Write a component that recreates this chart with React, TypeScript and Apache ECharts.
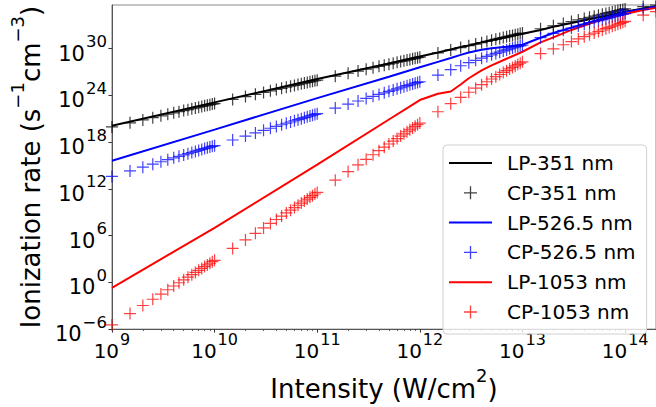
import React, { useEffect, useRef } from "react";
import * as echarts from "echarts";

// Intensity grid of the CP (circular polarization) samples, W/cm^2
const intensity = [
  1e9, 1.5e9, 2e9, 2.5e9, 3e9, 3.5e9, 4e9, 4.5e9, 5e9, 5.5e9, 6e9, 6.5e9, 7e9, 7.5e9, 8e9, 8.5e9, 9e9, 9.5e9,
  1e10, 1.5e10, 2e10, 2.5e10, 3e10, 3.5e10, 4e10, 4.5e10, 5e10, 5.5e10, 6e10, 6.5e10, 7e10, 7.5e10, 8e10, 8.5e10, 9e10, 9.5e10,
  1e11, 1.5e11, 2e11, 2.5e11, 3e11, 3.5e11, 4e11, 4.5e11, 5e11, 5.5e11, 6e11, 6.5e11, 7e11, 7.5e11, 8e11, 8.5e11, 9e11, 9.5e11,
  1e12, 1.5e12, 2e12, 2.5e12, 3e12, 3.5e12, 4e12, 4.5e12, 5e12, 5.5e12, 6e12, 6.5e12, 7e12, 7.5e12, 8e12, 8.5e12, 9e12, 9.5e12,
  1e13, 1.5e13, 2e13, 2.5e13, 3e13, 3.5e13, 4e13, 4.5e13, 5e13, 5.5e13, 6e13, 6.5e13, 7e13, 7.5e13, 8e13, 8.5e13, 9e13, 9.5e13,
  1e14, 1.5e14, 2e14,
];

// log10 of ionization rate (s^-1 cm^-3) for CP series
const cp351 = [
  19.95, 20.48, 20.85, 21.14, 21.38, 21.58, 21.76, 21.91, 22.05, 22.17, 22.28, 22.39, 22.49, 22.58, 22.66, 22.74, 22.81, 22.88,
  22.95, 23.48, 23.85, 24.14, 24.38, 24.58, 24.76, 24.91, 25.05, 25.17, 25.28, 25.39, 25.49, 25.58, 25.66, 25.74, 25.81, 25.88,
  25.95, 26.47, 26.84, 27.12, 27.36, 27.55, 27.73, 27.88, 28.01, 28.13, 28.25, 28.35, 28.44, 28.53, 28.61, 28.69, 28.76, 28.84,
  28.9, 29.45, 29.83, 30.13, 30.38, 30.59, 30.77, 30.92, 31.07, 31.19, 31.31, 31.42, 31.52, 31.61, 31.7, 31.78, 31.86, 31.93,
  32.0, 32.55, 32.93, 33.23, 33.48, 33.69, 33.87, 34.02, 34.17, 34.29, 34.41, 34.52, 34.62, 34.71, 34.8, 34.88, 34.96, 35.03,
  35.1, 35.4, 35.6,
];
const cp526 = [
  13.6, 14.3, 14.79, 15.17, 15.48, 15.75, 15.98, 16.18, 16.36, 16.52, 16.67, 16.81, 16.94, 17.06, 17.17, 17.27, 17.37, 17.46,
  17.55, 18.27, 18.78, 19.18, 19.51, 19.78, 20.02, 20.23, 20.42, 20.58, 20.74, 20.88, 21.01, 21.14, 21.25, 21.36, 21.46, 21.56,
  21.65, 22.37, 22.88, 23.28, 23.61, 23.88, 24.12, 24.33, 24.52, 24.68, 24.84, 24.98, 25.11, 25.24, 25.35, 25.46, 25.56, 25.66,
  25.75, 26.6, 27.3, 27.8, 28.2, 28.5, 28.78, 29.0, 29.2, 29.38, 29.55, 29.7, 29.84, 29.97, 30.09, 30.2, 30.28, 30.36,
  30.45, 31.4, 31.95, 32.35, 32.65, 32.9, 33.12, 33.3, 33.46, 33.6, 33.73, 33.85, 33.96, 34.06, 34.16, 34.25, 34.33, 34.41,
  34.5, 35.05, 35.35,
];
const cp1053 = [
  -5.47, -4.01, -2.97, -2.17, -1.51, -0.95, -0.47, -0.05, 0.33, 0.67, 0.99, 1.28, 1.54, 1.79, 2.02, 2.24, 2.45, 2.65,
  2.83, 4.36, 5.45, 6.29, 6.98, 7.56, 8.07, 8.51, 8.91, 9.27, 9.6, 9.9, 10.18, 10.44, 10.69, 10.91, 11.13, 11.34,
  11.54, 13.11, 14.22, 15.08, 15.79, 16.38, 16.9, 17.35, 17.76, 18.13, 18.46, 18.78, 19.06, 19.33, 19.58, 19.81, 20.03, 20.24,
  20.44, 21.9, 22.93, 23.75, 24.4, 24.92, 25.37, 25.75, 26.1, 26.4, 26.68, 26.94, 27.17, 27.39, 27.59, 27.78, 27.96, 28.13,
  28.3, 29.36, 29.98, 30.5, 30.9, 31.24, 31.53, 31.78, 32.0, 32.2, 32.39, 32.56, 32.72, 32.87, 33.0, 33.13, 33.25, 33.38,
  33.5, 34.3, 34.75,
];

// LP (linear polarization) curves
const lpIntensity = [1e9, 1e10, 1e11, 5e11, 1e12, 1.5e12, 2e12, 2.5e12, 3e12, 4e12, 5e12, 7e12, 1e13, 1.5e13, 2e13, 3e13, 5e13, 7e13, 1e14, 1.5e14, 2e14];
const lp351 = [20.1, 23.1, 26.1, 28.1, 29.0, 29.5, 29.9, 30.2, 30.4, 30.8, 31.1, 31.5, 31.9, 32.4, 32.8, 33.3, 33.9, 34.3, 34.75, 35.15, 35.45];
const lp526 = [15.6, 19.6, 23.65, 26.4, 27.6, 28.3, 28.8, 29.2, 29.5, 29.85, 30.05, 30.25, 30.5, 31.4, 32.0, 32.7, 33.55, 34.1, 34.7, 35.05, 35.35];
const lp1053 = [-0.7, 7.0, 15.1, 20.9, 23.4, 24.2, 24.5, 25.4, 26.2, 27.2, 27.85, 28.7, 29.6, 30.8, 31.45, 32.4, 33.4, 33.95, 34.45, 34.95, 35.25];

const xTickExponents = [9, 10, 11, 12, 13, 14];
const yTickExponents = [-6, 0, 6, 12, 18, 24, 30];
const seriesNames = ["LP-351 nm", "CP-351 nm", "LP-526.5 nm", "CP-526.5 nm", "LP-1053 nm", "CP-1053 nm"];

const FONT = "DejaVu Sans";
const PLUS = "path://M0,5.4H12V6.6H0Z M5.4,0H6.6V12H5.4Z";
const LINE_ICON = "path://M0,0H43V2H0Z";

export default function App() {
  const ref = useRef<HTMLDivElement>(null);
  useEffect(() => {
    const chart = echarts.init(ref.current!, null, { renderer: "svg" });
    const xMin = Math.log10(1e9);
    const xMax = Math.log10(2e14);
    const yMin = -6;
    const yMax = 35.6;
    const minorTicks: number[] = [];
    for (let n = 9; n <= 14; n++) {
      for (let k = 2; k <= 9; k++) {
        const v = n + Math.log10(k);
        if (v < xMax) minorTicks.push(v);
      }
    }
    const sup = (v: number) => (v < 0 ? "\u2212" + -v : String(v));
    const xTickRich = {
      b: { fontSize: 20, lineHeight: 30, verticalAlign: "bottom", fontFamily: FONT, color: "#000" },
      s: { fontSize: 16, lineHeight: 16, verticalAlign: "top", fontFamily: FONT, color: "#000", padding: [0, 0, 0, 1] },
    };
    const yTickRich = {
      b: { fontSize: 21, lineHeight: 31, verticalAlign: "bottom", fontFamily: FONT, color: "#000" },
      s: { fontSize: 16.5, lineHeight: 16.5, verticalAlign: "top", fontFamily: FONT, color: "#000", padding: [0, 0, 0, 1] },
    };
    const nameRich = {
      a: { fontSize: 26, lineHeight: 36, verticalAlign: "bottom", fontFamily: FONT, color: "#000" },
      s: { fontSize: 18, lineHeight: 18, verticalAlign: "top", fontFamily: FONT, color: "#000" },
    };
    const cp = (vals: number[]) => intensity.map((x, i) => [Math.log10(x), vals[i]]);
    const lp = (vals: number[]) => lpIntensity.map((x, i) => [Math.log10(x), vals[i]]);
    const colors = ["#000000", "#0000ff", "#ff0000"];
    const lpData = [lp351, lp526, lp1053];
    const cpData = [cp351, cp526, cp1053];
    const series: any[] = [];
    for (let i = 0; i < 3; i++) {
      series.push({
        name: seriesNames[2 * i],
        type: "line",
        data: lp(lpData[i]),
        symbol: "none",
        showSymbol: false,
        lineStyle: { color: colors[i], width: 2 },
        itemStyle: { color: colors[i] },
        z: 2,
      });
      series.push({
        name: seriesNames[2 * i + 1],
        type: "scatter",
        data: cp(cpData[i]),
        symbol: PLUS,
        symbolSize: 12,
        itemStyle: { color: colors[i], opacity: 0.75 },
        z: 2,
      });
    }
    chart.setOption({
      animation: false,
      backgroundColor: "#ffffff",
      textStyle: { fontFamily: FONT },
      grid: { left: 100, top: 5, right: -2, bottom: 68, show: true, borderColor: "#8a8a8a", borderWidth: 1 },
      legend: {
        data: seriesNames.map((name, i) => (i % 2 === 0 ? { name, icon: LINE_ICON } : { name })),
        orient: "vertical",
        left: 443,
        top: 145,
        padding: [8, 11, 12, 6],
        itemWidth: 43,
        itemHeight: 13,
        itemGap: 9.8,
        backgroundColor: "rgba(255,255,255,0.8)",
        borderColor: "#d0d0d0",
        borderWidth: 1,
        borderRadius: 4,
        textStyle: { fontSize: 20, fontFamily: FONT, color: "#000", lineHeight: 20, padding: [0, 0, 0, 10] },
      },
      xAxis: [
        {
          type: "value",
          min: xMin,
          max: xMax,
          interval: 1,
          name: "{a|Intensity (W/cm}{s|2}{a|)}",
          nameLocation: "middle",
          nameGap: 29,
          nameTextStyle: { rich: nameRich },
          axisLine: { show: true, onZero: false, lineStyle: { color: "#555", width: 1 } },
          axisTick: { show: true, length: 3.5, customValues: xTickExponents, lineStyle: { color: "#333", width: 1 } },
          axisLabel: {
            customValues: xTickExponents,
            margin: 2,
            formatter: (v: number) => `{b|10}{s|${sup(v)}}`,
            rich: xTickRich,
          },
          splitLine: { show: false },
        },
        {
          type: "value",
          min: xMin,
          max: xMax,
          position: "bottom",
          axisLine: { show: false, onZero: false },
          axisTick: { show: true, length: 2, customValues: minorTicks, lineStyle: { color: "#444", width: 0.8 } },
          axisLabel: { show: false },
          splitLine: { show: false },
        },
      ],
      yAxis: {
        type: "value",
        min: yMin,
        max: yMax,
        interval: 6,
        name: "{a|Ionization rate (s}{s|\u22121}{a|cm}{s|\u22123}{a|)}",
        nameLocation: "middle",
        nameGap: 66,
        nameTextStyle: { rich: nameRich },
        axisLine: { show: true, onZero: false, lineStyle: { color: "#555", width: 1 } },
        axisTick: { show: true, length: 3.5, customValues: yTickExponents, lineStyle: { color: "#333", width: 1 } },
        axisLabel: {
          customValues: yTickExponents,
          margin: 5,
          formatter: (v: number) => `{b|10}{s|${sup(v)}}`,
          rich: yTickRich,
        },
        splitLine: { show: false },
      },
      series,
    });
    return () => chart.dispose();
  }, []);
  return <div ref={ref} style={{ position: "absolute", left: 0, top: 0, width: 656, height: 407 }} />;
}
